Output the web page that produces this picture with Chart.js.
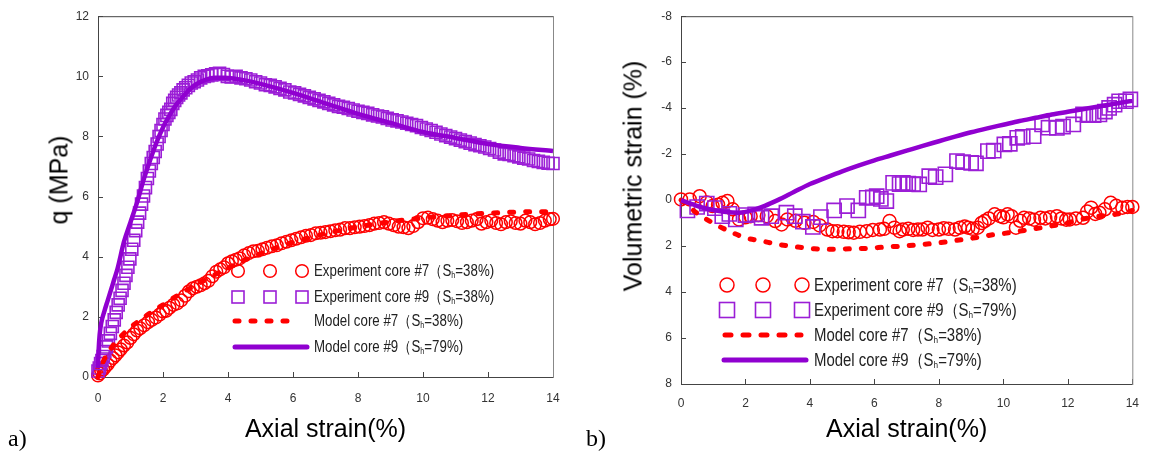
<!DOCTYPE html>
<html>
<head>
<meta charset="utf-8">
<script src="https://cdn.jsdelivr.net/npm/chart.js@4.4.1/dist/chart.umd.min.js"></script>
<style>
  html, body { margin: 0; padding: 0; background: #fff; }
  body { width: 1151px; height: 458px; position: relative; overflow: hidden; font-family: Arial, "Liberation Sans", sans-serif; }
  .box { position: absolute; top: 0; height: 458px; }
  .ytitle { position: absolute; font-size: 25px; line-height: 1; white-space: nowrap; color: #000;
            transform: translate(-50%, -50%) rotate(-90deg); }
  .panel { position: absolute; font-family: "Liberation Serif", "Times New Roman", serif; font-size: 24px; line-height: 1; color: #000; }
  .lg { position: absolute; white-space: nowrap; color: #222; line-height: 20px; height: 20px;
        transform: scaleX(0.83); transform-origin: left center; }
  .lg sub { font-size: 0.55em; vertical-align: -0.25em; }
  svg.marks { position: absolute; overflow: visible; }
</style>
</head>
<body>

<div class="box" style="left:0;width:575px"><canvas id="chartA"></canvas></div>
<div class="box" style="left:575px;width:576px"><canvas id="chartB"></canvas></div>

<div class="ytitle" style="left:59px;top:180px">q (MPa)</div>
<div class="ytitle" style="left:633px;top:176px">Volumetric strain (%)</div>

<div class="panel" style="left:8px;top:426px">a)</div>
<div class="panel" style="left:586px;top:426px">b)</div>

<!-- legend a -->
<svg class="marks" style="left:225px;top:254px" width="90" height="105">
  <g fill="none" stroke="#ff0000" stroke-width="1.5">
    <circle cx="13" cy="17" r="6.3"/><circle cx="45" cy="17" r="6.3"/><circle cx="77" cy="17" r="6.3"/>
  </g>
  <g fill="none" stroke="#9b1ed6" stroke-width="1.6">
    <rect x="7" y="37" width="12" height="12"/><rect x="39" y="37" width="12" height="12"/><rect x="71" y="37" width="12" height="12"/>
  </g>
  <line x1="10" y1="67" x2="68" y2="67" stroke="#ff0000" stroke-width="5" stroke-linecap="round" stroke-dasharray="4 12"/>
  <line x1="10" y1="93" x2="82" y2="93" stroke="#9000d0" stroke-width="5" stroke-linecap="round"/>
</svg>
<div class="lg" style="left:314px;top:261px;font-size:16px">Experiment core #7（S<sub>h</sub>=38%)</div>
<div class="lg" style="left:314px;top:287px;font-size:16px">Experiment core #9（S<sub>h</sub>=38%)</div>
<div class="lg" style="left:314px;top:311px;font-size:16px">Model core #7（S<sub>h</sub>=38%)</div>
<div class="lg" style="left:314px;top:337px;font-size:16px">Model core #9（S<sub>h</sub>=79%)</div>

<!-- legend b -->
<svg class="marks" style="left:715px;top:270px" width="100" height="100">
  <g fill="none" stroke="#ff0000" stroke-width="1.5">
    <circle cx="12" cy="15" r="7"/><circle cx="48" cy="15" r="7"/><circle cx="87" cy="15" r="7"/>
  </g>
  <g fill="none" stroke="#9b1ed6" stroke-width="1.6">
    <rect x="4.5" y="32.5" width="15" height="15"/><rect x="40.5" y="32.5" width="15" height="15"/><rect x="79.5" y="32.5" width="15" height="15"/>
  </g>
  <line x1="10" y1="65" x2="86" y2="65" stroke="#ff0000" stroke-width="5" stroke-linecap="round" stroke-dasharray="6 12"/>
  <line x1="9" y1="90" x2="91" y2="90" stroke="#9000d0" stroke-width="5" stroke-linecap="round"/>
</svg>
<div class="lg" style="left:814px;top:275px;font-size:18px">Experiment core #7（S<sub>h</sub>=38%)</div>
<div class="lg" style="left:814px;top:300px;font-size:18px">Experiment core #9（S<sub>h</sub>=79%)</div>
<div class="lg" style="left:814px;top:325px;font-size:18px">Model core #7（S<sub>h</sub>=38%)</div>
<div class="lg" style="left:814px;top:350px;font-size:18px">Model core #9（S<sub>h</sub>=79%)</div>

<script>
// ---- axes ----
const xTicks = [0, 2, 4, 6, 8, 10, 12, 14];
const qTicks = [0, 2, 4, 6, 8, 10, 12];
const volTicks = [-8, -6, -4, -2, 0, 2, 4, 6, 8];

// ---- panel a: q (MPa) vs axial strain (%) ----
const expCore9Q = [
  [0,0.2],[0.04,0.3],[0.08,0.45],[0.12,0.55],[0.16,0.68],[0.21,0.85],[0.26,1.0],[0.32,1.2],[0.38,1.45],[0.44,1.68],
  [0.5,1.9],[0.56,2.15],[0.62,2.4],[0.68,2.62],[0.74,2.88],[0.8,3.12],[0.86,3.38],[0.92,3.65],[0.98,3.93],[1.04,4.25],
  [1.1,4.55],[1.16,4.87],[1.22,5.15],[1.28,5.45],[1.34,5.75],[1.4,6.02],[1.46,6.3],[1.52,6.6],[1.58,6.85],[1.64,7.1],
  [1.7,7.3],[1.76,7.5],[1.82,7.75],[1.88,8.0],[1.94,8.2],[2.0,8.4],[2.06,8.58],[2.12,8.7],[2.18,8.8],[2.24,8.9],
  [2.3,9.1],[2.36,9.2],[2.42,9.3],[2.48,9.38],[2.55,9.45],[2.62,9.55],[2.7,9.62],[2.78,9.7],[2.87,9.78],[2.96,9.82],
  [3.06,9.88],[3.16,9.95],[3.27,10.0],[3.38,10.02],[3.5,10.05],[3.62,10.08],[3.74,10.1],[3.86,10.06],[3.98,10.0],[4.1,9.98],
  [4.25,10.0],[4.4,9.95],[4.55,9.92],[4.7,9.88],[4.85,9.82],[5.0,9.78],[5.15,9.72],[5.3,9.7],[5.45,9.65],[5.6,9.6],
  [5.75,9.55],[5.9,9.48],[6.05,9.45],[6.2,9.4],[6.35,9.35],[6.5,9.3],[6.65,9.25],[6.8,9.2],[6.95,9.15],[7.1,9.1],
  [7.25,9.05],[7.4,9.0],[7.55,8.97],[7.7,8.93],[7.85,8.88],[8.0,8.84],[8.15,8.8],[8.3,8.77],[8.45,8.72],[8.6,8.68],
  [8.75,8.65],[8.9,8.6],[9.05,8.55],[9.2,8.52],[9.35,8.48],[9.5,8.44],[9.65,8.4],[9.8,8.36],[9.95,8.3],[10.1,8.25],
  [10.25,8.2],[10.4,8.14],[10.55,8.08],[10.7,8.03],[10.85,7.98],[11.0,7.93],[11.15,7.88],[11.3,7.83],[11.45,7.78],[11.6,7.73],
  [11.75,7.69],[11.9,7.65],[12.05,7.6],[12.2,7.55],[12.35,7.48],[12.5,7.42],[12.65,7.4],[12.8,7.36],[12.95,7.32],[13.1,7.28],
  [13.25,7.25],[13.4,7.2],[13.55,7.17],[13.7,7.14],[13.85,7.11],[14.0,7.1]
];
const expCore7Q = [
  [0,0.05],[0.05,0.12],[0.1,0.2],[0.16,0.25],[0.22,0.33],[0.3,0.42],[0.38,0.55],[0.46,0.63],[0.54,0.72],[0.62,0.82],
  [0.7,0.92],[0.8,1.05],[0.9,1.15],[1.0,1.3],[1.1,1.42],[1.2,1.55],[1.3,1.62],[1.42,1.72],[1.54,1.82],[1.66,1.9],
  [1.78,1.98],[1.9,2.08],[2.0,2.18],[2.1,2.2],[2.2,2.3],[2.32,2.4],[2.44,2.45],[2.56,2.55],[2.68,2.7],[2.8,2.85],
  [2.92,2.95],[3.04,3.0],[3.16,3.05],[3.28,3.12],[3.4,3.2],[3.52,3.35],[3.64,3.5],[3.76,3.58],[3.88,3.65],[4.0,3.78],
  [4.12,3.85],[4.24,3.9],[4.36,3.95],[4.5,4.05],[4.64,4.12],[4.78,4.18],[4.92,4.2],[5.06,4.25],[5.2,4.3],[5.35,4.35],
  [5.5,4.38],[5.65,4.45],[5.8,4.5],[5.95,4.55],[6.1,4.6],[6.25,4.65],[6.4,4.7],[6.55,4.72],[6.7,4.78],[6.85,4.8],
  [7.0,4.82],[7.15,4.85],[7.3,4.88],[7.45,4.9],[7.6,4.95],[7.75,4.95],[7.9,4.98],[8.05,5.0],[8.2,5.02],[8.35,5.05],
  [8.5,5.1],[8.65,5.12],[8.8,5.15],[8.95,5.1],[9.1,5.05],[9.25,5.0],[9.4,4.98],[9.55,4.95],[9.7,5.02],[9.85,5.15],
  [10.0,5.28],[10.15,5.3],[10.3,5.25],[10.45,5.2],[10.6,5.15],[10.75,5.2],[10.9,5.22],[11.05,5.18],[11.2,5.12],[11.35,5.15],
  [11.5,5.2],[11.65,5.25],[11.8,5.1],[11.95,5.15],[12.1,5.2],[12.25,5.12],[12.4,5.08],[12.55,5.15],[12.7,5.18],[12.85,5.12],
  [13.0,5.1],[13.15,5.2],[13.3,5.15],[13.45,5.08],[13.6,5.12],[13.75,5.2],[13.9,5.25],[14.0,5.26]
];
const modelCore9Q = [
  [0,0.3],[0.02,0.9],[0.05,1.4],[0.1,1.8],[0.2,2.2],[0.3,2.55],[0.4,2.9],[0.5,3.25],[0.6,3.6],[0.8,4.5],
  [1.0,5.15],[1.2,5.8],[1.4,6.55],[1.6,7.2],[1.8,7.8],[2.0,8.3],[2.2,8.7],[2.4,9.05],[2.6,9.3],[2.8,9.55],
  [3.0,9.72],[3.3,9.88],[3.6,9.95],[3.9,9.95],[4.2,9.92],[4.6,9.85],[5,9.75],[6,9.45],[7,9.1],[8,8.75],
  [9,8.45],[10,8.15],[11,7.95],[12,7.75],[13,7.62],[14,7.52]
];
const modelCore7Q = [
  [0,0],[0.1,0.35],[0.25,0.7],[0.5,1.1],[0.75,1.4],[1,1.65],[1.5,2.05],[2,2.4],[2.5,2.75],[3,3.05],
  [3.5,3.35],[4,3.62],[4.5,3.88],[5,4.1],[5.5,4.3],[6,4.48],[6.5,4.63],[7,4.77],[7.5,4.89],[8,4.99],
  [8.5,5.08],[9,5.16],[9.5,5.23],[10,5.29],[10.5,5.34],[11,5.38],[11.5,5.42],[12,5.45],[12.5,5.47],[13,5.49],
  [13.5,5.5],[14,5.5]
];

// ---- panel b: volumetric strain (%) vs axial strain (%) ----
const expCore9Vol = [
  [0.2,0.45],[0.5,0.3],[0.8,0.15],[1.05,0.35],[1.28,0.7],[1.5,0.6],[1.7,0.84],[2.0,0.65],[2.3,0.62],[2.5,0.77],
  [2.8,0.7],[3.27,0.55],[3.53,0.7],[3.78,0.94],[4.09,1.17],[4.34,0.74],[4.75,0.45],[5.15,0.26],[5.5,0.45],[5.76,-0.1],
  [5.95,-0.12],[6.07,-0.17],[6.2,-0.05],[6.37,0.04],[6.58,-0.75],[6.78,-0.7],[6.88,-0.75],[7.05,-0.72],[7.2,-0.7],[7.39,-0.68],
  [7.7,-1.04],[7.9,-1.0],[8.2,-1.12],[8.56,-1.7],[8.75,-1.65],[9.0,-1.62],[9.15,-1.6],[9.52,-2.13],[9.7,-2.15],[10.03,-2.42],
  [10.2,-2.45],[10.43,-2.71],[10.6,-2.75],[10.94,-2.78],[11.2,-3.29],[11.4,-3.15],[11.66,-3.14],[11.85,-3.2],[12.17,-3.29],[12.47,-3.73],
  [12.65,-3.7],[12.8,-3.7],[12.98,-3.73],[13.15,-3.85],[13.28,-4.01],[13.45,-4.15],[13.59,-4.3],[13.8,-4.3],[13.94,-4.38]
];
const expCore7Vol = [
  [0,-0.03],[0.27,-0.03],[0.58,-0.17],[0.8,0.1],[0.98,0.26],[1.15,0.2],[1.29,0.12],[1.44,0.04],[1.6,0.4],[1.8,0.84],
  [2.0,0.75],[2.16,0.7],[2.4,0.65],[2.66,0.7],[2.92,0.91],[3.12,1.06],[3.3,0.84],[3.55,0.9],[3.83,0.99],[4.1,0.95],
  [4.3,1.1],[4.54,1.28],[4.7,1.35],[4.85,1.35],[5.05,1.38],[5.2,1.4],[5.36,1.42],[5.55,1.38],[5.76,1.35],[5.95,1.3],
  [6.17,1.28],[6.3,1.25],[6.47,0.91],[6.62,1.2],[6.78,1.35],[6.88,1.28],[7.05,1.25],[7.2,1.3],[7.35,1.28],[7.49,1.28],
  [7.65,1.2],[7.8,1.3],[8.0,1.28],[8.15,1.22],[8.3,1.25],[8.5,1.28],[8.65,1.2],[8.8,1.15],[8.91,1.2],[9.05,1.25],
  [9.2,1.2],[9.32,1.0],[9.42,0.91],[9.55,0.8],[9.73,0.62],[9.9,0.7],[10.0,0.75],[10.13,0.62],[10.25,0.7],[10.39,1.2],
  [10.52,0.9],[10.64,0.77],[10.8,0.8],[10.95,0.85],[11.15,0.77],[11.3,0.8],[11.45,0.75],[11.66,0.7],[11.8,0.8],[11.95,0.85],
  [12.06,0.84],[12.25,0.8],[12.47,0.77],[12.6,0.5],[12.72,0.33],[12.85,0.6],[12.98,0.55],[13.15,0.4],[13.33,0.12],[13.5,0.25],
  [13.69,0.33],[13.85,0.3],[14.0,0.3]
];
const modelCore9Vol = [
  [0,0],[0.3,0.15],[0.6,0.3],[1.0,0.43],[1.4,0.52],[1.8,0.55],[2.2,0.45],[2.6,0.25],[3.0,0.0],[3.5,-0.35],
  [4.0,-0.7],[4.5,-0.98],[5.0,-1.25],[5.5,-1.5],[6.0,-1.73],[6.5,-1.94],[7.0,-2.15],[7.5,-2.36],[8.0,-2.56],[8.5,-2.76],
  [9.0,-2.95],[9.5,-3.12],[10.0,-3.28],[10.5,-3.44],[11.0,-3.58],[11.5,-3.72],[12.0,-3.84],[12.5,-3.96],[13.0,-4.08],[13.5,-4.2],
  [14.0,-4.32]
];
const modelCore7Vol = [
  [0,0],[0.48,0.55],[0.98,0.99],[1.49,1.35],[2.0,1.64],[2.51,1.78],[3.02,1.93],[3.63,2.04],[4.14,2.12],[4.7,2.14],
  [5.25,2.12],[5.76,2.1],[6.37,2.04],[6.88,2.0],[7.49,1.93],[8.0,1.86],[8.56,1.75],[9.12,1.64],[9.62,1.52],[10.18,1.42],
  [10.74,1.3],[11.3,1.17],[11.86,1.03],[12.42,0.84],[12.98,0.7],[13.47,0.62],[14.0,0.45]
];

const RED = '#ff0000';
const PURPLE = '#9000d0';
const PURPLE_MARK = '#9b1ed6';

Chart.defaults.font.family = 'Arial, "Liberation Sans", sans-serif';
Chart.defaults.animation = false;

const toXY = arr => arr.map(p => ({ x: p[0], y: p[1] }));

// box round the plot plus short inward tick marks
const frame = {
  id: 'frame',
  beforeDatasetsDraw(chart) {
    const { ctx, chartArea: a, scales: { x, y } } = chart;
    ctx.save();
    ctx.strokeStyle = '#444';
    ctx.lineWidth = 1;
    ctx.beginPath();
    ctx.moveTo(a.right + 0.5, a.top + 0.5);
    ctx.lineTo(a.left + 0.5, a.top + 0.5);
    ctx.lineTo(a.left + 0.5, a.bottom + 0.5);
    ctx.lineTo(a.right + 0.5, a.bottom + 0.5);
    x.ticks.forEach(t => {
      const px = Math.round(x.getPixelForValue(t.value)) + 0.5;
      ctx.moveTo(px, a.bottom);
      ctx.lineTo(px, a.bottom - 5);
    });
    y.ticks.forEach(t => {
      const py = Math.round(y.getPixelForValue(t.value)) + 0.5;
      ctx.moveTo(a.left, py);
      ctx.lineTo(a.left + 5, py);
    });
    ctx.stroke();
    ctx.strokeStyle = '#888';
    ctx.beginPath();
    ctx.moveTo(a.right + 0.5, a.top);
    ctx.lineTo(a.right + 0.5, a.bottom + 1);
    ctx.stroke();
    ctx.restore();
  }
};

function makeChart(id, series, yTicks, opts) {
  const datasets = [
    { label: 'Model core #9', data: toXY(series.m9), showLine: true, pointRadius: 0,
      borderColor: PURPLE, borderWidth: 4.5, cubicInterpolationMode: 'monotone', clip: false },
    { label: 'Model core #7', data: toXY(series.m7), showLine: true, pointRadius: 0,
      borderColor: RED, borderWidth: 5, borderDash: [4, 12], borderCapStyle: 'round',
      cubicInterpolationMode: 'monotone', clip: false },
    { label: 'Experiment core #9', data: toXY(series.e9), showLine: false, pointStyle: 'rect',
      pointRadius: opts.rectR, pointBorderWidth: 1.6, pointBorderColor: PURPLE_MARK,
      pointBackgroundColor: 'rgba(0,0,0,0)', clip: false },
    { label: 'Experiment core #7', data: toXY(series.e7), showLine: false, pointStyle: 'circle',
      pointRadius: opts.circR, pointBorderWidth: 1.5, pointBorderColor: RED,
      pointBackgroundColor: 'rgba(0,0,0,0)', clip: false }
  ];
  return new Chart(document.getElementById(id), {
    type: 'scatter',
    data: { datasets },
    options: {
      responsive: true,
      maintainAspectRatio: false,
      layout: { padding: opts.padding },
      plugins: { legend: { display: false }, tooltip: { enabled: false } },
      scales: {
        x: {
          type: 'linear', min: 0, max: 14,
          afterBuildTicks: s => { s.ticks = xTicks.map(v => ({ value: v })); },
          afterFit: s => { s.height = opts.xHeight; },
          grid: { display: false, drawTicks: false },
          border: { display: false },
          ticks: { color: '#333', font: { size: 12 }, padding: opts.xPad },
          title: { display: true, text: 'Axial strain(%)', color: '#000', font: { size: 25 },
                   padding: { top: 0, bottom: 13 } }
        },
        y: {
          type: 'linear', min: yTicks[0], max: yTicks[yTicks.length - 1], reverse: opts.reverse,
          afterBuildTicks: s => { s.ticks = yTicks.map(v => ({ value: v })); },
          afterFit: s => { s.width = opts.yWidth; },
          grid: { display: false, drawTicks: false },
          border: { display: false },
          ticks: { color: '#333', font: { size: 12 }, padding: 9 },
          title: { display: false }
        }
      }
    },
    plugins: [frame]
  });
}

makeChart('chartA',
  { m9: modelCore9Q, m7: modelCore7Q, e9: expCore9Q, e7: expCore7Q },
  qTicks,
  { padding: { left: 0, right: 22, top: 9, bottom: 0 }, xHeight: 81, yWidth: 98, xPad: 14,
    reverse: false, rectR: 8.5, circR: 6.3 });

makeChart('chartB',
  { m9: modelCore9Vol, m7: modelCore7Vol, e9: expCore9Vol, e7: expCore7Vol },
  volTicks,
  { padding: { left: 0, right: 11, top: 15, bottom: 0 }, xHeight: 74, yWidth: 106, xPad: 12,
    reverse: true, rectR: 10, circR: 6.5 });
</script>
</body>
</html>
